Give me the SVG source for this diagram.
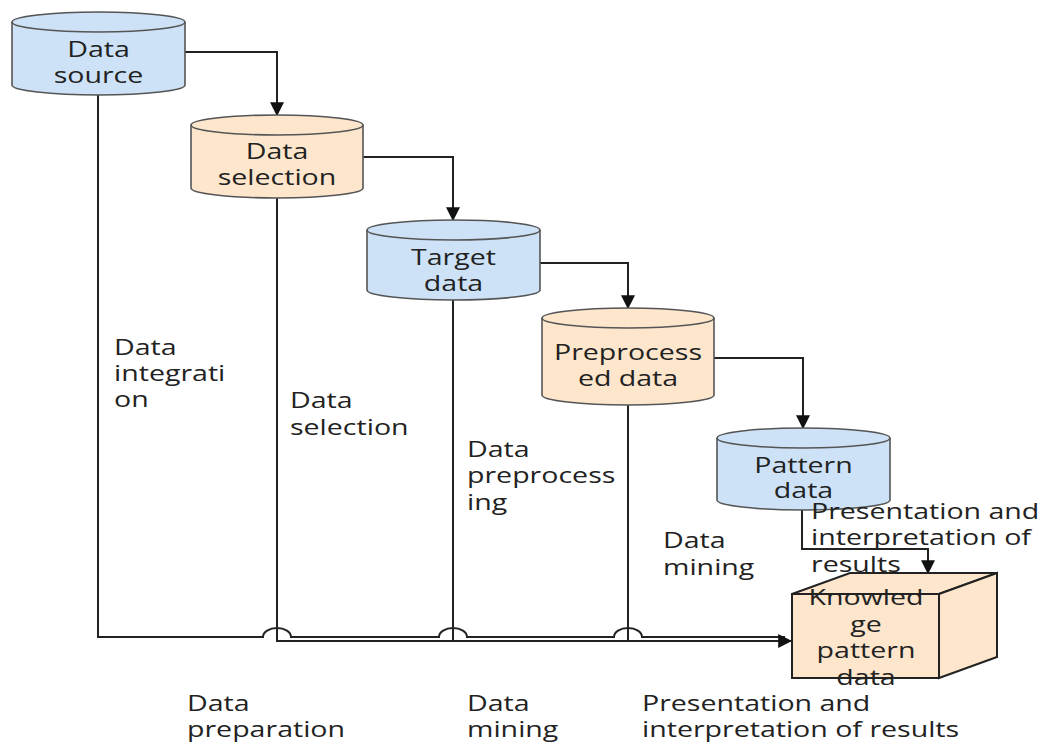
<svg xmlns="http://www.w3.org/2000/svg" width="1042" height="742" viewBox="0 0 1042 742">
  <defs>
    <style>
      .blue { fill: #cde2f7; stroke: #555; stroke-width: 1.6; }
      .orange { fill: #fde6cc; stroke: #555; stroke-width: 1.6; }
      .cube { fill: #fde6cc; stroke: #222; stroke-width: 2; }
      .edge { fill: none; stroke: #222; stroke-width: 2; }
      .lbl { font-family: "Open Sans", "Noto Sans", sans-serif; font-size: 21px; fill: #222; }
      .mid { text-anchor: middle; }
    </style>
    <marker id="arrow" markerUnits="userSpaceOnUse" markerWidth="14" markerHeight="14" viewBox="0 0 12 12" refX="11" refY="6" orient="auto">
      <path d="M0,0 L12,6 L0,12 Z" fill="#111"/>
    </marker>
  </defs>

  <!-- connectors -->
  <g id="connectors">
    <path class="edge" d="M185,52 H277 V115" marker-end="url(#arrow)"/>
    <path class="edge" d="M363,157 H453 V220" marker-end="url(#arrow)"/>
    <path class="edge" d="M540,263 H628 V308" marker-end="url(#arrow)"/>
    <path class="edge" d="M714,358 H803 V428" marker-end="url(#arrow)"/>
    <path class="edge" d="M802,510 V549 H928 V573" marker-end="url(#arrow)"/>
    <!-- stage lines to the knowledge cube, with hops over crossings -->
    <path class="edge" d="M98,95 V637 H263 A14,9 0 0 1 291,637 H439 A14,9 0 0 1 467,637 H614 A14,9 0 0 1 642,637 H785"/>
    <path class="edge" d="M277,198 V641 H791" marker-end="url(#arrow)"/>
    <path class="edge" d="M453,300 V641"/>
    <path class="edge" d="M628,405 V641"/>
  </g>

  <g id="data-source">
    <path class="blue" d="M12,22 V85 A86.5,10 0 0 0 185,85 V22"/>
    <ellipse class="blue" cx="98.5" cy="22" rx="86.5" ry="10"/>
    <g transform="translate(98.5,0) scale(1.36,1)">
      <text class="lbl mid"><tspan x="0" y="57">Data</tspan><tspan x="0" y="83">source</tspan></text>
    </g>
  </g>

  <g id="data-selection">
    <path class="orange" d="M191,125 V188 A86,10 0 0 0 363,188 V125"/>
    <ellipse class="orange" cx="277" cy="125" rx="86" ry="10"/>
    <g transform="translate(277,0) scale(1.36,1)">
      <text class="lbl mid"><tspan x="0" y="159">Data</tspan><tspan x="0" y="185">selection</tspan></text>
    </g>
  </g>

  <g id="target-data">
    <path class="blue" d="M367,230 V290 A86.5,10 0 0 0 540,290 V230"/>
    <ellipse class="blue" cx="453.5" cy="230" rx="86.5" ry="10"/>
    <g transform="translate(453.5,0) scale(1.36,1)">
      <text class="lbl mid"><tspan x="0" y="265">Target</tspan><tspan x="0" y="291">data</tspan></text>
    </g>
  </g>

  <g id="preprocessed-data">
    <path class="orange" d="M542,318 V395 A86,10 0 0 0 714,395 V318"/>
    <ellipse class="orange" cx="628" cy="318" rx="86" ry="10"/>
    <g transform="translate(628,0) scale(1.36,1)">
      <text class="lbl mid"><tspan x="0" y="360">Preprocess</tspan><tspan x="0" y="386">ed data</tspan></text>
    </g>
  </g>

  <g id="pattern-data">
    <path class="blue" d="M717,438 V500 A86.5,10 0 0 0 890,500 V438"/>
    <ellipse class="blue" cx="803.5" cy="438" rx="86.5" ry="10"/>
    <g transform="translate(803.5,0) scale(1.36,1)">
      <text class="lbl mid"><tspan x="0" y="473">Pattern</tspan><tspan x="0" y="498">data</tspan></text>
    </g>
  </g>

  <g id="knowledge-pattern-data">
    <polygon class="cube" points="792,594 850,573 997,573 939,594"/>
    <polygon class="cube" points="939,594 997,573 997,657 939,678"/>
    <rect class="cube" x="792" y="594" width="147" height="84"/>
    <g transform="translate(866,0) scale(1.36,1)">
      <text class="lbl mid"><tspan x="0" y="605">Knowled</tspan><tspan x="0" y="632">ge</tspan><tspan x="0" y="658">pattern</tspan><tspan x="0" y="685">data</tspan></text>
    </g>
  </g>

  <!-- stage labels beside the lines -->
  <g id="label-integration" transform="translate(114,0) scale(1.36,1)">
    <text class="lbl"><tspan x="0" y="355">Data</tspan><tspan x="0" y="381">integrati</tspan><tspan x="0" y="407">on</tspan></text>
  </g>
  <g id="label-selection" transform="translate(290,0) scale(1.36,1)">
    <text class="lbl"><tspan x="0" y="408">Data</tspan><tspan x="0" y="435">selection</tspan></text>
  </g>
  <g id="label-preprocessing" transform="translate(467,0) scale(1.36,1)">
    <text class="lbl"><tspan x="0" y="457">Data</tspan><tspan x="0" y="483">preprocess</tspan><tspan x="0" y="510">ing</tspan></text>
  </g>
  <g id="label-mining" transform="translate(663,0) scale(1.36,1)">
    <text class="lbl"><tspan x="0" y="548">Data</tspan><tspan x="0" y="575">mining</tspan></text>
  </g>
  <g id="label-presentation" transform="translate(811,0) scale(1.36,1)">
    <text class="lbl"><tspan x="0" y="519">Presentation and</tspan><tspan x="0" y="545">interpretation of</tspan><tspan x="0" y="572">results</tspan></text>
  </g>

  <!-- phase labels along the bottom -->
  <g id="phase-preparation" transform="translate(187,0) scale(1.36,1)">
    <text class="lbl"><tspan x="0" y="711">Data</tspan><tspan x="0" y="737">preparation</tspan></text>
  </g>
  <g id="phase-mining" transform="translate(467,0) scale(1.36,1)">
    <text class="lbl"><tspan x="0" y="711">Data</tspan><tspan x="0" y="737">mining</tspan></text>
  </g>
  <g id="phase-presentation" transform="translate(642,0) scale(1.36,1)">
    <text class="lbl"><tspan x="0" y="711">Presentation and</tspan><tspan x="0" y="737">interpretation of results</tspan></text>
  </g>
</svg>
